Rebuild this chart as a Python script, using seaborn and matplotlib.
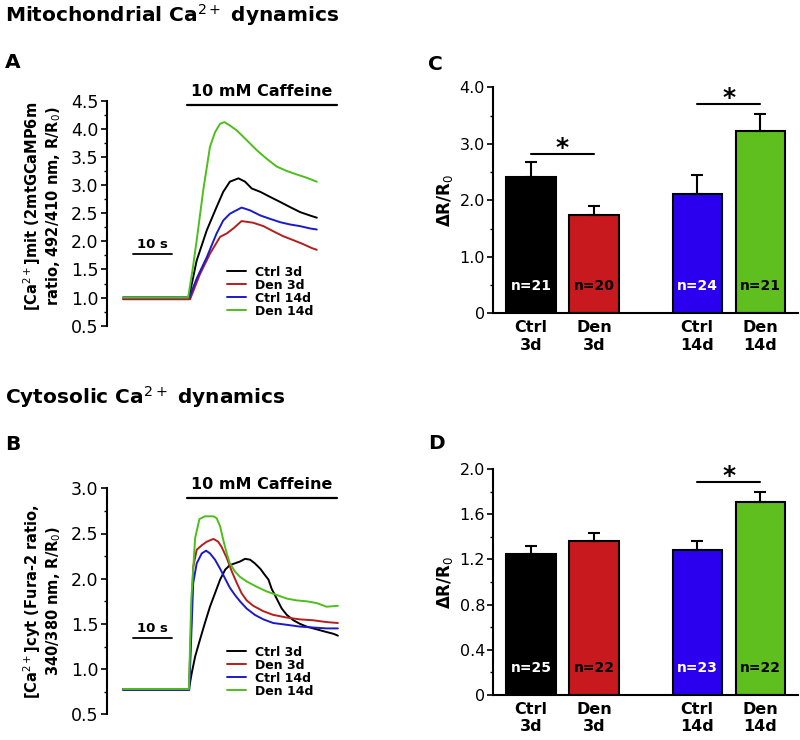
import numpy as np
import pandas as pd
import matplotlib
matplotlib.use("Agg")
import matplotlib.pyplot as plt
import seaborn as sns
from matplotlib.ticker import MultipleLocator

# ---------------- data ----------------
series = ["Ctrl 3d", "Den 3d", "Ctrl 14d", "Den 14d"]

# Panel A: mitochondrial Ca2+ traces (time in s, ratio R/R0)
a_ctrl3_t = [0, 8, 16.9, 18.9, 21.5, 24.0, 25.7, 27.4, 29.6, 31.3, 33.0, 35.2, 37.7, 40.3, 42.8, 45.4, 47.9, 49.7]
a_ctrl3_v = [1.0, 1.0, 1.0, 1.66, 2.20, 2.61, 2.88, 3.06, 3.12, 3.06, 2.94, 2.88, 2.79, 2.70, 2.61, 2.52, 2.46, 2.42]
a_den3_t = [0, 8, 17.2, 19.7, 22.3, 24.9, 26.6, 28.3, 30.4, 33.4, 36.0, 38.5, 41.1, 43.7, 46.2, 48.4, 49.7]
a_den3_v = [0.97, 0.97, 0.97, 1.41, 1.78, 2.08, 2.14, 2.23, 2.36, 2.33, 2.27, 2.18, 2.09, 2.02, 1.95, 1.88, 1.85]
a_ctrl14_t = [0, 8, 17.0, 18.9, 21.5, 24.0, 25.7, 27.4, 30.4, 32.6, 35.2, 37.7, 40.3, 42.8, 45.4, 47.9, 49.7]
a_ctrl14_v = [1.0, 1.0, 1.0, 1.34, 1.72, 2.14, 2.37, 2.49, 2.60, 2.55, 2.46, 2.40, 2.34, 2.30, 2.27, 2.23, 2.21]
a_den14_t = [0, 8, 16.7, 17.9, 18.9, 20.6, 22.3, 23.6, 24.9, 26.0, 27.4, 29.2, 31.7, 34.3, 36.8, 39.4, 42.0, 44.5, 47.1, 49.7]
a_den14_v = [1.0, 1.0, 1.0, 1.52, 2.02, 2.92, 3.68, 3.94, 4.09, 4.12, 4.06, 3.97, 3.80, 3.62, 3.47, 3.33, 3.25, 3.19, 3.13, 3.06]

# Panel B: cytosolic Ca2+ traces
b_ctrl3_t = [0, 8, 16.9, 17.6, 18.5, 19.7, 21.0, 22.3, 23.6, 24.9, 26.2, 27.4, 28.7, 30.0, 31.3, 32.6, 33.8,
             35.2, 36.4, 37.3, 38.1, 39.4, 40.7, 42.0, 43.7, 45.4, 47.1, 48.8, 50.5, 52.2, 54.0, 55.1]
b_ctrl3_v = [0.78, 0.78, 0.78, 0.95, 1.14, 1.32, 1.51, 1.69, 1.84, 1.99, 2.10, 2.15, 2.17, 2.19, 2.22, 2.21, 2.17,
             2.11, 2.04, 1.99, 1.89, 1.78, 1.67, 1.60, 1.54, 1.50, 1.47, 1.45, 1.43, 1.41, 1.39, 1.37]
b_den3_t = [0, 8, 16.9, 18.0, 18.9, 20.2, 21.5, 23.2, 24.4, 25.3, 26.6, 27.9, 29.2, 30.4, 31.7, 33.4, 36.0,
            38.5, 42.0, 45.4, 48.8, 52.2, 55.1]
b_den3_v = [0.77, 0.77, 0.77, 2.13, 2.32, 2.37, 2.41, 2.44, 2.41, 2.35, 2.23, 2.08, 1.95, 1.84, 1.76, 1.70, 1.64,
            1.60, 1.57, 1.55, 1.54, 1.52, 1.51]
b_ctrl14_t = [0, 8, 17.0, 18.0, 18.9, 20.2, 21.3, 22.3, 23.6, 24.9, 26.2, 27.4, 28.7, 30.0, 31.7, 33.8, 36.0,
              38.5, 42.0, 45.4, 48.8, 52.2, 55.1]
b_ctrl14_v = [0.77, 0.77, 0.77, 1.95, 2.17, 2.28, 2.31, 2.28, 2.21, 2.11, 2.00, 1.90, 1.82, 1.75, 1.67, 1.60, 1.55,
              1.51, 1.49, 1.47, 1.46, 1.45, 1.45]
b_den14_t = [0, 8, 16.9, 17.5, 18.5, 19.6, 21.0, 23.2, 24.0, 24.9, 25.7, 26.6, 27.4, 28.7, 30.0, 31.7, 34.3,
             36.8, 39.4, 42.0, 44.5, 47.1, 49.7, 52.2, 55.1]
b_den14_v = [0.78, 0.78, 0.78, 1.76, 2.45, 2.66, 2.69, 2.69, 2.67, 2.58, 2.43, 2.28, 2.17, 2.08, 2.02, 1.97, 1.91,
             1.86, 1.82, 1.78, 1.76, 1.75, 1.73, 1.69, 1.70]

# Panel C: mitochondrial peak amplitude (mean, SEM, n)
c_mean = [2.41, 1.745, 2.12, 3.23]
c_sem = [0.26, 0.155, 0.33, 0.30]
c_n = [21, 20, 24, 21]
# Panel D: cytosolic peak amplitude
d_mean = [1.25, 1.365, 1.28, 1.705]
d_sem = [0.07, 0.065, 0.08, 0.095]
d_n = [25, 22, 23, 22]

bar_ticklabels = ["Ctrl\n3d", "Den\n3d", "Ctrl\n14d", "Den\n14d"]
bar_group = [0, 0, 1, 1]      # 3d group, 14d group
bar_within = [0, 1, 0, 1]

# ---------------- style ----------------
sns.set_style("ticks")
plt.rcParams["font.family"] = ["DejaVu Sans"]
plt.rcParams["mathtext.fontset"] = "dejavusans"
for key in ["text.color", "axes.labelcolor", "xtick.color", "ytick.color", "axes.edgecolor"]:
    plt.rcParams[key] = "black"

trace_colors = {"Ctrl 3d": "#000000", "Den 3d": "#b41e1e", "Ctrl 14d": "#1a1acc", "Den 14d": "#4cbf1c"}
bar_colors = {"Ctrl 3d": "#000000", "Den 3d": "#c81a1e", "Ctrl 14d": "#2a00ee", "Den 14d": "#5fbf1f"}
n_colors = ["white", "black", "white", "black"]

W, H = 800, 740
fig = plt.figure(figsize=(W / 100, H / 100), dpi=100)


def ax_px(left, top, right, bottom):
    return fig.add_axes([left / W, 1 - bottom / H, (right - left) / W, (bottom - top) / H])


def trace_df(ts, vs):
    rows = []
    for name, t, v in zip(series, ts, vs):
        rows.append(pd.DataFrame({"t": t, "v": v, "series": name}))
    return pd.concat(rows, ignore_index=True)


def trace_panel(ax, df, ylim, major, minor, caff_y, caff_txt_y, bar10_y, txt10_y, leg_y, ylabel, ylab_y):
    sns.lineplot(data=df, x="t", y="v", hue="series", hue_order=series, palette=trace_colors,
                 sort=False, estimator=None, linewidth=1.4, legend=False, ax=ax)
    ax.set_xlim(-4.10, 55.64)
    ax.set_ylim(*ylim)
    ax.yaxis.set_major_locator(MultipleLocator(major))
    ax.yaxis.set_minor_locator(MultipleLocator(minor))
    ax.yaxis.set_major_formatter(matplotlib.ticker.FormatStrFormatter("%.1f"))
    for s in ["top", "right", "bottom"]:
        ax.spines[s].set_visible(False)
    ax.spines["left"].set_linewidth(1.5)
    ax.set_xticks([])
    ax.tick_params(axis="y", which="major", length=4, width=1.2, pad=2, labelsize=12.5)
    ax.tick_params(axis="y", which="minor", length=2.5, width=1.0)
    ax.set_xlabel("")
    ax.set_ylabel("")
    # caffeine application bar
    ax.plot([16.4, 54.9], [caff_y, caff_y], color="black", lw=1.6, clip_on=False)
    ax.text((16.4 + 54.9) / 2, caff_txt_y, "10 mM Caffeine", ha="center", va="center",
            fontsize=11.5, fontweight="bold", clip_on=False)
    # 10 s scale bar
    ax.plot([2.56, 12.56], [bar10_y, bar10_y], color="black", lw=1.3)
    ax.text(7.56, txt10_y, "10 s", ha="center", va="center", fontsize=9.5, fontweight="bold")
    lines = ax.get_lines()[:4]
    ax.legend(lines, series, loc="upper left", bbox_to_anchor=(0.515, leg_y), frameon=False,
              borderpad=0, borderaxespad=0, handlelength=1.5, handletextpad=0.75,
              labelspacing=0.0, prop={"weight": "bold", "size": 9})
    ax.text(-0.278, ylab_y, ylabel, transform=ax.transAxes, rotation=90, rotation_mode="anchor",
            ha="center", va="center", fontsize=10.5, fontweight="bold", multialignment="center",
            linespacing=1.15)


def bar_panel(ax, means, sems, ns, ylim, major, minor, fmt, sig_pairs, sig_y, n_y):
    pos = [g * 2.64 + w for g, w in zip(bar_group, bar_within)]
    df = pd.DataFrame({"pos": pos, "val": means, "grp": series})
    sns.barplot(data=df, x="pos", y="val", hue="grp", hue_order=series, palette=bar_colors,
                native_scale=True, width=0.78, dodge=False, legend=False, errorbar=None,
                edgecolor="black", linewidth=1.5, saturation=1, ax=ax)
    ax.errorbar(pos, means, yerr=[np.zeros(len(sems)), sems], fmt="none", ecolor="black",
                elinewidth=1.5, capsize=4, capthick=1.5, zorder=1)
    ax.set_xlim(-0.608, 4.24)
    ax.set_ylim(*ylim)
    ax.yaxis.set_major_locator(MultipleLocator(major))
    ax.yaxis.set_minor_locator(MultipleLocator(minor))
    ax.yaxis.set_major_formatter(matplotlib.ticker.FuncFormatter(lambda v, p: "0" if abs(v) < 1e-9 else fmt % v))
    ax.set_xticks(pos)
    ax.set_xticklabels(bar_ticklabels, fontweight="bold", fontsize=11.5, linespacing=1.2)
    ax.tick_params(axis="x", length=0, pad=5)
    ax.tick_params(axis="y", which="major", length=4, width=1.2, pad=1.5, labelsize=11.5)
    ax.tick_params(axis="y", which="minor", length=2.5, width=1.0)
    for s in ["top", "right"]:
        ax.spines[s].set_visible(False)
    ax.spines["left"].set_linewidth(1.5)
    ax.spines["bottom"].set_linewidth(1.5)
    ax.set_xlabel("")
    ax.set_ylabel("")
    for p, n, c in zip(pos, ns, n_colors):
        ax.text(p, n_y, f"n={n}", ha="center", va="center", color=c, fontsize=10, fontweight="bold")
    for (i, j), y in zip(sig_pairs, sig_y):
        ax.plot([pos[i], pos[j]], [y, y], color="black", lw=1.5)
        yr = ylim[1] - ylim[0]
        ax.text((pos[i] + pos[j]) / 2, y - 0.005 * yr, "*", ha="center", va="baseline",
                fontsize=18, fontweight="bold")
    ax.text(-0.156, 0.5, "ΔR/R$_0$", transform=ax.transAxes, rotation=90, rotation_mode="anchor",
            ha="center", va="center", fontsize=12, fontweight="bold")


# Panel A
axA = ax_px(107, 100.7, 340, 325.7)
dfA = trace_df([a_ctrl3_t, a_den3_t, a_ctrl14_t, a_den14_t], [a_ctrl3_v, a_den3_v, a_ctrl14_v, a_den14_v])
trace_panel(axA, dfA, (0.5, 4.5), 0.5, 0.25, 4.42, 4.67, 1.77, 1.94, 0.266,
            "[Ca$^{2+}$]mit (2mtGCaMP6m\nratio, 492/410 nm, R/R$_0$)", 0.53)

# Panel B
axB = ax_px(107, 488.3, 340, 714.3)
dfB = trace_df([b_ctrl3_t, b_den3_t, b_ctrl14_t, b_den14_t], [b_ctrl3_v, b_den3_v, b_ctrl14_v, b_den14_v])
trace_panel(axB, dfB, (0.5, 3.0), 0.5, 0.25, 2.896, 3.044, 1.347, 1.45, 0.303,
            "[Ca$^{2+}$]cyt (Fura-2 ratio,\n340/380 nm, R/R$_0$)", 0.5)

# Panel C
axC = ax_px(492.7, 87.3, 798, 313.3)
bar_panel(axC, c_mean, c_sem, c_n, (0, 4.0), 1.0, 0.5, "%.1f", [(0, 1), (2, 3)], [2.82, 3.70], 0.48)

# Panel D
axD = ax_px(492.7, 469, 798, 695)
bar_panel(axD, d_mean, d_sem, d_n, (0, 2.0), 0.4, 0.2, "%.1f", [(2, 3)], [1.885], 0.24)

# Titles and panel letters
fig.text(5 / W, 1 - 21.7 / H, "Mitochondrial Ca$^{2+}$ dynamics", fontsize=14.5, fontweight="bold", va="baseline")
fig.text(5 / W, 1 - 404.3 / H, "Cytosolic Ca$^{2+}$ dynamics", fontsize=14.5, fontweight="bold", va="baseline")
for letter, x, y in [("A", 5, 68), ("B", 5, 450), ("C", 428, 70), ("D", 428, 449)]:
    fig.text(x / W, 1 - y / H, letter, fontsize=14.5, fontweight="bold", va="baseline")

fig.savefig("out.png", dpi=100)
